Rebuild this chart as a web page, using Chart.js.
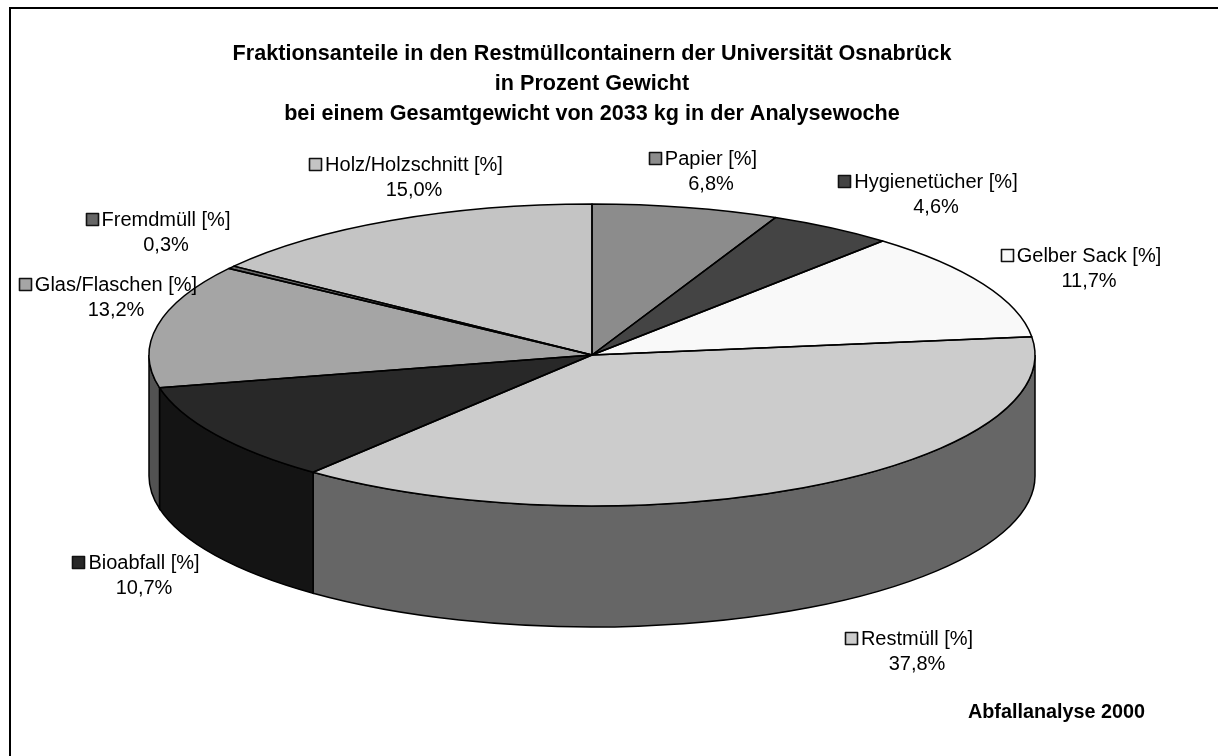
<!DOCTYPE html>
<html><head><meta charset="utf-8">
<style>html,body{margin:0;padding:0;background:#fff}canvas{display:block}</style>
<script src="https://cdn.jsdelivr.net/npm/chart.js@4"></script>
</head><body><canvas id="c" width="1218" height="756"></canvas>
<script>
const categories = ['Papier [%]','Hygienetücher [%]','Gelber Sack [%]','Restmüll [%]','Bioabfall [%]','Glas/Flaschen [%]','Fremdmüll [%]','Holz/Holzschnitt [%]'];
const shares = [6.8,4.6,11.7,37.8,10.7,13.2,0.3,15.0];
const topColors = ['#8c8c8c','#444444','#f9f9f9','#cccccc','#282828','#a5a5a5','#666666','#c4c4c4'];
const sideColors = ['#464646','#222222','#7c7c7c','#666666','#141414','#525252','#333333','#626262'];
const titleLines = ['Fraktionsanteile in den Restmüllcontainern der Universität Osnabrück','in Prozent Gewicht','bei einem Gesamtgewicht von 2033 kg in der Analysewoche'];
const footnote = 'Abfallanalyse 2000';
// layout only
const labelCenterX = [711,936,1089,917,144,116,166,414];
const labelY = [158,181,255,638,562,284,219,164];
const pie = {cx:592, cy:355, rx:443, ry:151, depth:121};
const FONT = '"Liberation Sans", Arial, sans-serif';

const pie3d = {
  id:'pie3d',
  beforeDatasetDraw(chart){
    const ctx = chart.ctx, arcs = chart.getDatasetMeta(0).data;
    const {cx,cy,rx,ry,depth} = pie;
    const lw = 1.5;
    // Side wall (visible for the front half only)
    arcs.forEach((arc,i)=>{
      const a = Math.max(arc.startAngle, 0), b = Math.min(arc.endAngle, Math.PI);
      if (b <= a) return;
      ctx.beginPath();
      ctx.ellipse(cx,cy,rx,ry,0,a,b);
      ctx.ellipse(cx,cy+depth,rx,ry,0,b,a,true);
      ctx.closePath();
      ctx.fillStyle = sideColors[i];
      ctx.fill();
      ctx.strokeStyle = '#000'; ctx.lineWidth = lw;
      ctx.stroke();
    });
    // Top face: the library's own arcs, flattened
    arcs.forEach((arc)=>{
      ctx.save();
      const k = rx/arc.outerRadius, m = ry/arc.outerRadius;
      ctx.translate(cx,cy); ctx.scale(k,m); ctx.translate(-arc.x,-arc.y);
      arc.draw(ctx, chart.chartArea);
      ctx.restore();
    });
    // Outlines with an undistorted pen
    arcs.forEach((arc)=>{
      ctx.beginPath();
      ctx.moveTo(cx,cy);
      ctx.ellipse(cx,cy,rx,ry,0,arc.startAngle,arc.endAngle);
      ctx.closePath();
      ctx.strokeStyle = '#000'; ctx.lineWidth = lw; ctx.lineJoin='round';
      ctx.stroke();
    });
    return false;
  },
  afterDraw(chart){
    const ctx = chart.ctx;
    // frame
    ctx.fillStyle = '#000';
    ctx.fillRect(9,7,1209,2);
    ctx.fillRect(9,7,2,749);
    // data labels
    ctx.textBaseline = 'middle';
    ctx.font = '20px '+FONT;
    categories.forEach((name,i)=>{
      const tw = ctx.measureText(name).width, key = 12, gap = 4;
      const xc = labelCenterX[i], tx = xc-tw/2, y = labelY[i];
      const kx = Math.round(tx-gap-key)+0.5, ky = y-6+0.5;
      ctx.fillStyle = topColors[i];
      ctx.fillRect(kx,ky,key,key);
      ctx.strokeStyle = '#111'; ctx.lineWidth = 1.6;
      ctx.strokeRect(kx,ky,key,key);
      ctx.fillStyle = '#000'; ctx.textAlign = 'left';
      ctx.fillText(name,tx,y+1);
      ctx.textAlign = 'center';
      ctx.fillText(shares[i].toFixed(1).replace('.',',')+'%',xc,y+26);
    });
    ctx.font = 'bold 19.8px '+FONT;
    ctx.textAlign = 'left';
    ctx.fillText(footnote,968,713);
  }
};

new Chart(document.getElementById('c'),{
  type:'pie',
  data:{labels:categories,datasets:[{data:shares,backgroundColor:topColors,borderWidth:0}]},
  options:{
    responsive:false, animation:false,
    layout:{padding:{right:34}},
    events:[],
    plugins:{
      legend:{display:false},
      tooltip:{enabled:false},
      title:{display:true,text:titleLines,color:'#000',
        font:{family:FONT,size:21.6,weight:'bold',lineHeight:1.39},
        padding:{top:39,bottom:8}}
    }
  },
  plugins:[pie3d]
});
</script></body></html>
